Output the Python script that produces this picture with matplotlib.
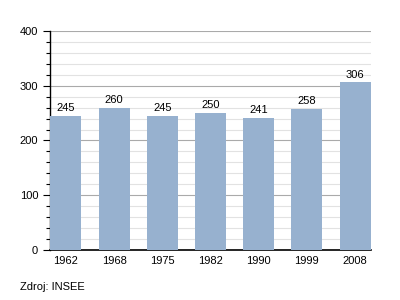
import matplotlib
matplotlib.use('Agg')
import matplotlib.pyplot as plt
from matplotlib.ticker import MultipleLocator

years = ['1962', '1968', '1975', '1982', '1990', '1999', '2008']
population = [245, 260, 245, 250, 241, 258, 306]

plt.rcParams['font.family'] = ['Liberation Sans', 'DejaVu Sans']

fig = plt.figure(figsize=(4, 3), dpi=100)
ax = fig.add_axes([0.125, 0.1667, 0.8025, 0.73])

x = list(range(len(years)))
ax.bar(x, population, width=0.64, color='#97b1cf', zorder=3)
for xi, v in zip(x, population):
    ax.text(xi, v + 5, str(v), ha='center', va='bottom', fontsize=8, zorder=4)

ax.set_xlim(-0.33, len(years) - 1 + 0.33)
ax.set_ylim(0, 400)
ax.set_xticks(x)
ax.set_xticklabels(years, fontsize=8)
ax.yaxis.set_major_locator(MultipleLocator(100))
ax.yaxis.set_minor_locator(MultipleLocator(20))
ax.tick_params(axis='y', which='major', labelsize=8, length=5, width=0.8)
ax.tick_params(axis='y', which='minor', length=3, width=0.8)
ax.tick_params(axis='x', length=0, pad=4)

ax.grid(axis='y', which='major', color='#aaaaaa', linewidth=0.8, zorder=0)
ax.grid(axis='y', which='minor', color='#e2e2e2', linewidth=0.8, zorder=0)

ax.spines['top'].set_visible(False)
ax.spines['right'].set_visible(False)
ax.spines['left'].set_linewidth(1.0)
ax.spines['bottom'].set_linewidth(1.2)

fig.text(0.05, 0.035, 'Zdroj: INSEE', fontsize=8)

fig.savefig('out.png', dpi=100)
